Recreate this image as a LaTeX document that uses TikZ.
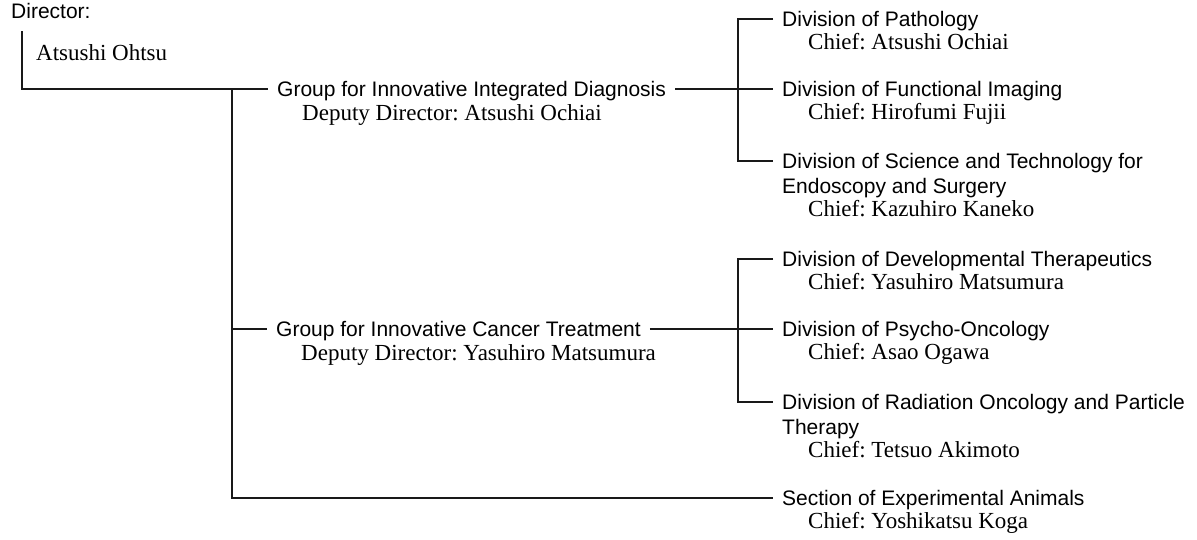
\documentclass[tikz,border=0pt]{standalone}
\usepackage{fontspec}
\setmainfont{Liberation Serif}
\setsansfont{Liberation Sans}
\usetikzlibrary{positioning}
\frenchspacing

\tikzset{
  tree/.style={line width=1.9pt, black!90},
  head/.style={anchor=west, inner xsep=9pt, inner ysep=0pt, text height=15pt, text depth=0pt,
    font=\fontsize{21}{24}\sffamily},
  headmore/.style={anchor=base west, inner sep=0pt, font=\fontsize{21}{24}\sffamily},
  chief/.style={anchor=base west, inner sep=0pt, font=\fontsize{23}{24}\selectfont},
}

\begin{document}
\begin{tikzpicture}[x=1pt,y=-1pt]
  \useasboundingbox (0,0) rectangle (1197,539);

  % director
  \node[head] (dir) at (2,11) {Director:};
  \node[chief] (dirname) at (36,60) {Atsushi Ohtsu};

  % the two groups
  \node[head] (diag) at (268,89) {Group for Innovative Integrated Diagnosis};
  \node[chief] (diagdep) at (302,120) {Deputy Director: Atsushi Ochiai};
  \node[head] (treat) at (267,329) {Group for Innovative Cancer Treatment};
  \node[chief] (treatdep) at (301,360) {Deputy Director: Yasuhiro Matsumura};

  % divisions under diagnosis
  \node[head] (patho) at (773,19) {Division of Pathology};
  \node[chief] (pathochief) at (808,49) {Chief: Atsushi Ochiai};
  \node[head] (imaging) at (773,89) {Division of Functional Imaging};
  \node[chief] (imagingchief) at (808,119) {Chief: Hirofumi Fujii};
  \node[head] (endo) at (773,161) {Division of Science and Technology for};
  \node[headmore] (endo2) at (782,193) {Endoscopy and Surgery};
  \node[chief] (endochief) at (808,216) {Chief: Kazuhiro Kaneko};

  % divisions under treatment
  \node[head] (devel) at (773,259) {Division of Developmental Therapeutics};
  \node[chief] (develchief) at (808,289) {Chief: Yasuhiro Matsumura};
  \node[head] (psycho) at (773,329) {Division of Psycho-Oncology};
  \node[chief] (psychochief) at (808,359) {Chief: Asao Ogawa};
  \node[head] (radio) at (773,402) {Division of Radiation Oncology and Particle};
  \node[headmore] (radio2) at (782,434) {Therapy};
  \node[chief] (radiochief) at (808,457) {Chief: Tetsuo Akimoto};

  \node[head] (animals) at (773,498) {Section of Experimental Animals};
  \node[chief] (animalschief) at (808,528) {Chief: Yoshikatsu Koga};

  % connectors
  \coordinate (root) at (22,31);
  \coordinate (trunk) at (232,89);
  \draw[tree] (root) |- (diag.west);
  \draw[tree] (trunk) |- (treat.west);
  \draw[tree] (trunk) |- (animals.west);
  \draw[tree] (diag.east) -- (imaging.west);
  \draw[tree] (patho.west) -- ++(-35,0) |- (endo.west);
  \draw[tree] (treat.east) -- (psycho.west);
  \draw[tree] (devel.west) -- ++(-35,0) |- (radio.west);
\end{tikzpicture}
\end{document}
